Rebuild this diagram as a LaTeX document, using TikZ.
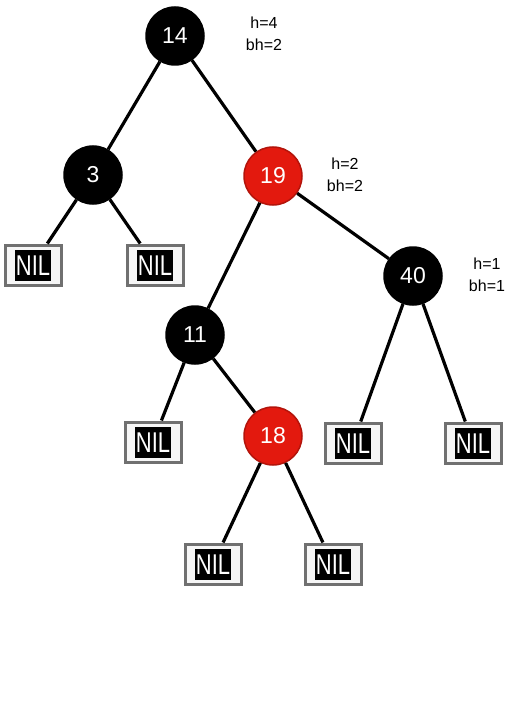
\documentclass[tikz,border=0pt]{standalone}
\usepackage{fontspec}
\setmainfont{Liberation Sans}
\usepackage{xcolor}
\usetikzlibrary{positioning}
\definecolor{rbred}{HTML}{E3190E}
\definecolor{rbredline}{HTML}{B3140B}
\definecolor{nilframe}{HTML}{707070}
\definecolor{nilfill}{HTML}{F6F6F6}

\begin{document}
\begin{tikzpicture}[
    x=1pt, y=-1pt,
    blacknode/.style={circle, fill=black, draw=black, line width=1.5pt, minimum size=58pt, inner sep=0pt, text=white, font=\fontsize{23}{25}\selectfont},
    rednode/.style={blacknode, fill=rbred, draw=rbredline},
    nil/.style={rectangle, draw=nilframe, line width=3pt, fill=nilfill, minimum width=56pt, minimum height=40pt, inner sep=0pt, font=\fontsize{22}{24}\selectfont},
    height/.style={align=center, font=\fontsize{16}{22}\selectfont},
    edge/.style={line width=3.2pt}
]
\useasboundingbox (0,0) rectangle (528,714);

\newcommand{\niltext}{\setlength{\fboxsep}{0.5pt}\colorbox{black}{\rule[-5pt]{0pt}{30pt}\textcolor{white}{\scalebox{1}[1.3]{NIL}}}}

% ============== INNER NODES ==============
\node[blacknode] (n14) at (175,36) {14};
\node[blacknode] (n3)  at (93,175) {3};
\node[rednode]   (n19) at (273,176) {19};
\node[blacknode] (n40) at (413,276) {40};
\node[blacknode] (n11) at (195,335) {11};
\node[rednode]   (n18) at (273,436) {18};

% ============== LEAVES ==============
\node[nil] (nilA) at (33,265) {\niltext};
\node[nil] (nilB) at (155,265) {\niltext};
\node[nil] (nilC) at (153,442) {\niltext};
\node[nil] (nilD) at (353,443) {\niltext};
\node[nil] (nilE) at (473,443) {\niltext};
\node[nil] (nilF) at (213,564) {\niltext};
\node[nil] (nilG) at (333,564) {\niltext};

% ============== HEIGHTS ==============
\node[height] (h14) at (264,34) {h=4\\bh=2};
\node[height] (h19) at (345,175) {h=2\\bh=2};
\node[height] (h40) at (487,275) {h=1\\bh=1};

% ============== EDGES ==============
\draw[edge] (n14) -- (n3);
\draw[edge] (n14) -- (n19);
\draw[edge] (n3) -- (nilA);
\draw[edge] (n3) -- (nilB);
\draw[edge] (n19) -- (n11);
\draw[edge] (n19) -- (n40);
\draw[edge] (n11) -- (nilC);
\draw[edge] (n11) -- (n18);
\draw[edge] (n40) -- (nilD);
\draw[edge] (n40) -- (nilE);
\draw[edge] (n18) -- (nilF);
\draw[edge] (n18) -- (nilG);

\end{tikzpicture}
\end{document}
